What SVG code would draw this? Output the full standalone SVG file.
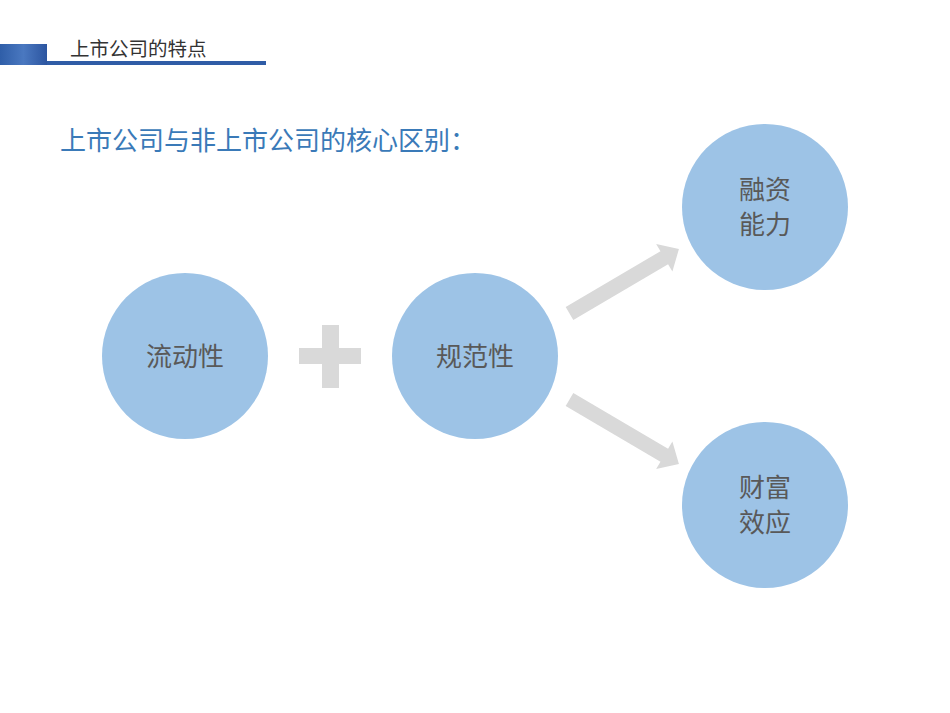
<svg xmlns="http://www.w3.org/2000/svg" width="950" height="713" viewBox="0 0 950 713">
<style>
.node circle{fill:#9dc3e6}
.node text{font-family:"Noto Sans CJK SC","Liberation Sans",sans-serif;font-size:26px;fill:#595959;text-anchor:middle}
.conn{fill:#d9d9d9}
</style>
<defs>
<linearGradient id="hg" x1="0" y1="0" x2="1" y2="0">
<stop offset="0" stop-color="#2f5ea8"/>
<stop offset="0.5" stop-color="#4a78c0"/>
<stop offset="1" stop-color="#2c55a0"/>
</linearGradient>
</defs>
<rect width="950" height="713" fill="#ffffff"/>
<g id="header">
<rect x="0" y="44" width="47" height="21" fill="url(#hg)"/>
<rect x="47" y="61" width="219" height="4" fill="#2f5ca6"/>
<text x="70" y="56" font-family="Noto Sans CJK SC,Liberation Sans,sans-serif" font-size="19.5" fill="#333333">上市公司的特点</text>
</g>
<g id="title">
<text x="60" y="150" font-family="Noto Sans CJK SC,Liberation Sans,sans-serif" font-size="26" fill="#3a7ab8">上市公司与非上市公司的核心区别：</text>
</g>
<g id="connectors">
<g id="plus" class="conn">
<rect x="322" y="325" width="17" height="63"/>
<rect x="299" y="348" width="62" height="16"/>
</g>
<polygon class="conn" points="0,-7.5 110,-7.5 110,-16 127,0 110,16 110,7.5 0,7.5" transform="translate(569.5,313.5) rotate(-30.5)"/>
<polygon class="conn" points="0,-7.5 110,-7.5 110,-16 127,0 110,16 110,7.5 0,7.5" transform="translate(569.5,399.5) rotate(30.5)"/>
</g>
<g id="liquidity" class="node">
<circle cx="185" cy="356" r="83"/>
<text x="185" y="366">流动性</text>
</g>
<g id="standard" class="node">
<circle cx="475" cy="356" r="83"/>
<text x="475" y="366">规范性</text>
</g>
<g id="financing" class="node">
<circle cx="765" cy="207" r="83"/>
<text x="765" y="199">融资</text>
<text x="765" y="234">能力</text>
</g>
<g id="wealth" class="node">
<circle cx="765" cy="505" r="83"/>
<text x="765" y="497">财富</text>
<text x="765" y="532">效应</text>
</g>
</svg>
